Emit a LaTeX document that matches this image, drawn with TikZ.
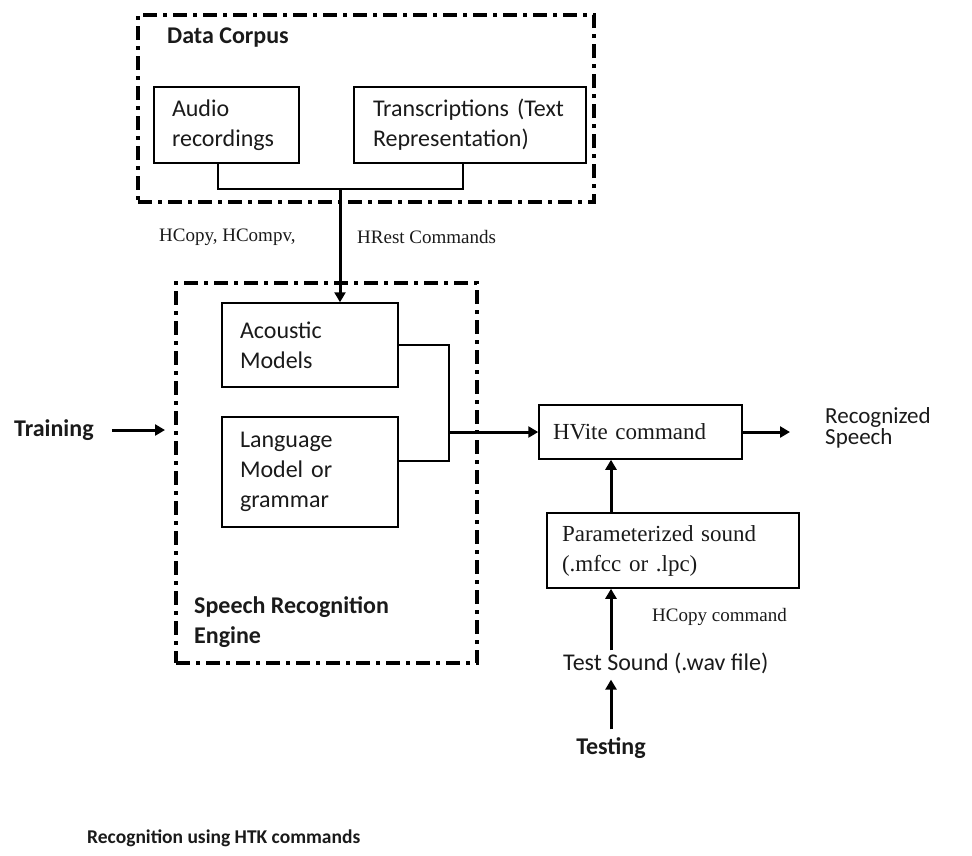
\documentclass[tikz,border=0pt]{standalone}
\usepackage{fontspec}
\setmainfont{Carlito}
\newfontfamily\tnr{Liberation Serif}
\usepackage{tikz}
\usetikzlibrary{arrows.meta,positioning,calc}
\definecolor{ln}{HTML}{000000}
\definecolor{tx}{HTML}{1A1A1A}
\newcommand{\Sf}{\fontsize{24}{30}\selectfont}
\newcommand{\Sb}{\fontsize{24}{30}\selectfont\bfseries}
\newcommand{\Tm}{\tnr\fontsize{23}{30}\selectfont}
\newcommand{\Ts}{\tnr\fontsize{19}{24}\selectfont}
\tikzset{
  group/.style={draw=ln, line width=4pt, dash pattern=on 14pt off 6pt on 4pt off 6pt},
  blk/.style={draw=ln, line width=1.5pt, align=left, text=tx, inner xsep=0pt, inner ysep=0pt},
  link/.style={draw=ln, line width=1.5pt},
  flow/.style={draw=ln, line width=3pt, -{Triangle[length=10pt,width=11pt]}},
  lbl/.style={text=tx, inner sep=0pt, align=left}
}
\begin{document}
\begin{tikzpicture}[x=1pt,y=-1pt]
  \useasboundingbox (0,0) rectangle (972,855);
  % data corpus
  \node[group, minimum width=456pt, minimum height=187pt] (corpus) at (366,108.5) {};
  \node[lbl, anchor=west, font=\Sb] (corpuslbl) at (167,38) {Data Corpus};
  \node[blk, minimum width=145pt, minimum height=76pt, text width=109pt, font=\Sf] (audio) at (226.5,125) {Audio\\recordings};
  \node[blk, minimum width=232pt, minimum height=76pt, text width=194pt, font=\Sf] (trans) at (470,125) {Transcriptions (Text\\Representation)};
  \coordinate (cj) at (340,189);
  \draw[link] (audio.south -| 218,0) |- (cj) -| (trans.south -| 463,0);
  \node[lbl, anchor=west, font=\Ts] (hcopy) at (159,237) {HCopy, HCompv,};
  \node[lbl, anchor=west, font=\Ts] (hrest) at (357,237) {HRest Commands};
  % engine
  \node[group, minimum width=301pt, minimum height=380pt] (engine) at (326.5,473) {};
  \node[blk, minimum width=176pt, minimum height=84pt, text width=140pt, font=\Sf] (acoustic) at (310,345) {Acoustic\\Models};
  \node[blk, minimum width=176pt, minimum height=110pt, text width=140pt, font=\Sf] (language) at (310,472) {Language\\Model or\\grammar};
  \node[lbl, anchor=north west, font=\Sb] (enginelbl) at (194,596) {Speech Recognition\\Engine};
  \draw[flow] (cj) -- (acoustic.north -| cj);
  \node[lbl, anchor=west, font=\Sb] (training) at (14,430) {Training};
  \draw[flow, shorten >=9pt] ([xshift=18pt]training.east) -- (engine.west |- training.east);
  \coordinate (mj) at (449,432);
  \draw[link] (acoustic.east) -| (mj) |- ([yshift=11pt]language.east);
  % recognition
  \node[blk, minimum width=203pt, minimum height=54pt, text width=175pt, font=\Tm] (hvite) at (640.5,432) {HVite command};
  \draw[flow] (mj) -- (hvite.west);
  \coordinate (out) at (790,432);
  \draw[flow] (hvite.east) -- (out);
  \node[lbl, anchor=west, font=\fontsize{23}{21}\selectfont] (speech) at (825,428) {Recognized\\Speech};
  \node[blk, minimum width=252pt, minimum height=75pt, text width=222pt, font=\Tm] (param) at (673,550.5) {Parameterized sound\\(.mfcc or .lpc)};
  \coordinate (tp) at (611,0);
  \draw[flow] (param.north -| tp) -- (hvite.south -| tp);
  \node[lbl, anchor=west, font=\Ts] (hcopycmd) at (652,617) {HCopy command};
  \node[lbl, anchor=west, font=\Sf] (test) at (563,663) {Test Sound (.wav file)};
  \draw[flow, shorten <=2pt] (test.north -| tp) -- (param.south -| tp);
  \node[lbl, font=\Sb] (testing) at (611,748) {Testing};
  \draw[flow, shorten <=8pt, shorten >=6pt] (testing.north) -- (test.south -| tp);
  \node[lbl, anchor=west, font=\fontsize{19.5}{24}\selectfont\bfseries] (caption) at (87,838) {Recognition using HTK commands};
\end{tikzpicture}
\end{document}
